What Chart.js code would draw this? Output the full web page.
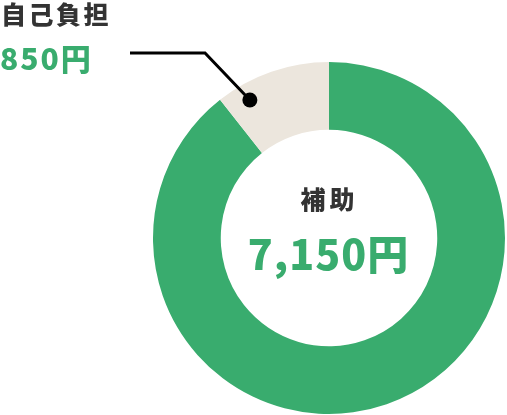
<!DOCTYPE html>
<html>
<head>
<meta charset="utf-8">
<script src="https://cdn.jsdelivr.net/npm/chart.js@4/dist/chart.umd.min.js"></script>
<style>
  html, body { margin: 0; padding: 0; background: #fff; }
  #wrap { position: relative; width: 507px; height: 415px; }
  canvas { position: absolute; left: 0; top: 0; }
  .t { position: absolute; font-family: "Noto Sans CJK JP", "Noto Sans", sans-serif; font-weight: 900; white-space: nowrap; line-height: 1; }
  #selfLabel { left: 1px; top: 1px; font-size: 25px; letter-spacing: 2.5px; color: #333; }
  #selfValue { left: 0; top: 42px; font-size: 30px; letter-spacing: 2px; color: #39ac6e; }
  #mainLabel { left: 0; width: 659px; text-align: center; top: 186px; font-size: 25px; letter-spacing: 4px; color: #333; }
  #mainValue { left: 0; width: 657px; text-align: center; top: 232px; font-size: 41px; letter-spacing: 1px; color: #39ac6e; }
</style>
</head>
<body>
<div id="wrap">
  <canvas id="pie" width="507" height="415"></canvas>
  <div class="t" id="selfLabel"></div>
  <div class="t" id="selfValue"></div>
  <div class="t" id="mainLabel"></div>
  <div class="t" id="mainValue"></div>
</div>
<script>
const categories = ['補助', '自己負担']
const amounts = [7150, 850]
const colors = ['#39ac6e', '#ece6dd']

const yen = v => v.toLocaleString('ja-JP') + '円'

document.getElementById('mainLabel').textContent = categories[0]
document.getElementById('mainValue').textContent = yen(amounts[0])
document.getElementById('selfLabel').textContent = categories[1]
document.getElementById('selfValue').textContent = yen(amounts[1])

// leader line from the label to a dot on the small slice
const leader = {
  id: 'leader',
  afterDatasetsDraw(chart) {
    const arc = chart.getDatasetMeta(0).data[1]
    const { x, y, startAngle, endAngle, innerRadius, outerRadius } = arc.getProps(['x', 'y', 'startAngle', 'endAngle', 'innerRadius', 'outerRadius'], true)
    const a = startAngle + (endAngle - startAngle) * 0.22
    const r = innerRadius + (outerRadius - innerRadius) * 0.75
    const dx = x + Math.cos(a) * r
    const dy = y + Math.sin(a) * r
    const ctx = chart.ctx
    ctx.save()
    ctx.strokeStyle = '#000'
    ctx.lineWidth = 3
    ctx.beginPath()
    ctx.moveTo(130, 53)
    ctx.lineTo(205, 53)
    ctx.lineTo(dx, dy)
    ctx.stroke()
    ctx.fillStyle = '#000'
    ctx.beginPath()
    ctx.arc(dx, dy, 7.5, 0, Math.PI * 2)
    ctx.fill()
    ctx.restore()
  }
}

new Chart(document.getElementById('pie'), {
  type: 'doughnut',
  data: {
    labels: categories,
    datasets: [{ data: amounts, backgroundColor: colors, borderWidth: 0 }]
  },
  options: {
    responsive: false,
    animation: false,
    cutout: '61.5%',
    layout: { padding: { left: 153, right: 2, top: 62, bottom: 1 } },
    plugins: { legend: { display: false }, tooltip: { enabled: false } }
  },
  plugins: [leader]
})
</script>
</body>
</html>
